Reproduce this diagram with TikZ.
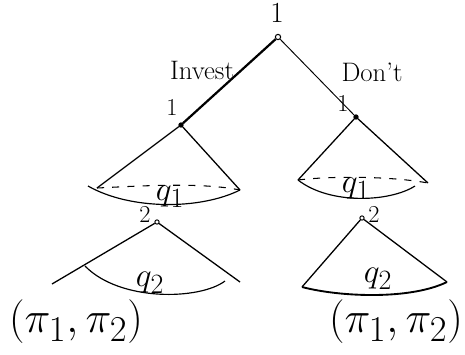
\documentclass[tikz,border=0pt]{standalone}
\usetikzlibrary{positioning}

\begin{document}
\begin{tikzpicture}[
    x=0.03cm, y=-0.03cm,
    dec/.style={draw, circle, fill=black, inner sep=1.3pt, line width=0.8pt},
    rootdec/.style={draw, circle, fill=white, inner sep=1.6pt, line width=0.9pt},
    branch/.style={line width=1.1pt},
    invbranch/.style={line width=1.9pt},
    dontbranch/.style={line width=0.8pt},
    iset/.style={line width=1.0pt},
    isetd/.style={line width=0.9pt, dashed, dash pattern=on 6pt off 7pt},
    lbl/.style={font=\huge, inner sep=1pt},
    qlbl/.style={font=\Huge, scale=1.15, inner sep=0pt},
    pay/.style={font=\Huge, scale=1.5, inner sep=0pt},
]
\useasboundingbox (0,0) rectangle (465,354);

% ======================================
%  ROOT: player 1 moves
% ======================================
\node[rootdec] (root) at (278,37) {};
\node[lbl, font=\Huge] (rootlbl) at (277,13) {1};

\node[dec] (inv) at (181,125) {};
\node[lbl] (invlbl) at (172,107) {1};
\node[dec] (dont) at (356,117) {};
\node[lbl] (dontlbl) at (343,103) {1};

\draw[invbranch] (root) -- (inv);
\draw[dontbranch] (root) -- (dont);
\node[lbl, scale=1.1] (invest) at (202,70) {Invest};
\node[lbl, scale=1.1] (donttxt) at (372,72) {Don't};

% ======================================
%  LEFT: after Invest
% ======================================
\coordinate (invL) at (97,188);
\coordinate (invR) at (240,190);
\draw[branch] (inv) -- (invL);
\draw[branch] (inv) -- (invR);
\draw[isetd] (invL) .. controls (140,186) and (200,182) .. (invR);
\draw[iset] (88,186) .. controls (130,210) and (200,210) .. (invR);
\node[qlbl] (q1l) at (170,197) {$q_1$};

\node[dec, fill=white] (invB) at (157,222) {};
\node[lbl] (invBlbl) at (145,214) {2};
\coordinate (invBL) at (52,284);
\coordinate (invBR) at (240,282);
\draw[branch] (invB) -- (invBL);
\draw[branch] (invB) -- (invBR);
\draw[iset] (85,266) .. controls (120,302) and (200,300) .. (225,281);
\node[qlbl] (q2l) at (150,283) {$q_2$};
\node[pay] (payl) at (76,322) {$(\pi_1,\pi_2)$};

% ======================================
%  RIGHT: after Don't
% ======================================
\coordinate (dontL) at (298,180);
\coordinate (dontR) at (428,183);
\draw[branch] (dont) -- (dontL);
\draw[branch] (dont) -- (dontR);
\draw[isetd] (dontL) .. controls (330,176) and (390,176) .. (dontR);
\draw[iset] (dontL) .. controls (330,205) and (390,202) .. (415,186);
\node[qlbl] (q1r) at (356,189) {$q_1$};

\node[dec, fill=white] (dontB) at (362,218) {};
\node[lbl] (dontBlbl) at (374,214) {2};
\coordinate (dontBL) at (302,287);
\coordinate (dontBR) at (447,282);
\draw[branch] (dontB) -- (dontBL);
\draw[branch] (dontB) -- (dontBR);
\draw[iset, line width=1.6pt] (dontBL) .. controls (340,297) and (410,300) .. (dontBR);
\node[qlbl] (q2r) at (378,279) {$q_2$};
\node[pay] (payr) at (396,322) {$(\pi_1,\pi_2)$};

\end{tikzpicture}
\end{document}
